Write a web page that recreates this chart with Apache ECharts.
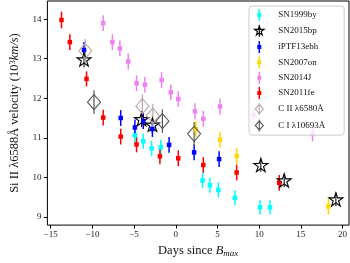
<!DOCTYPE html>
<html>
<head>
<meta charset="utf-8">
<script src="https://cdn.jsdelivr.net/npm/echarts@6/dist/echarts.min.js"></script>
<style>html,body{margin:0;padding:0;background:#fff}#c{width:350px;height:263px}</style>
</head>
<body>
<div id="c"></div>
<script>
const xTicks = [-15, -10, -5, 0, 5, 10, 15, 20];
const yTicks = [9, 10, 11, 12, 13, 14];

const sn1999by_x = [-4.9, -3.9, -2.9, -1.8, 3.2, 4.1, 5.1, 7.1, 10.1, 11.3];
const sn1999by_y = [11.06, 10.91, 10.73, 10.76, 9.92, 9.80, 9.68, 9.48, 9.24, 9.24];
const sn1999by_err = [0.19, 0.19, 0.19, 0.19, 0.19, 0.19, 0.19, 0.19, 0.18, 0.18];

const sn2015bp_x = [-11.0, -4.1, -2.8, 10.2, 13.0, 19.2];
const sn2015bp_y = [12.98, 11.47, 11.33, 10.31, 9.92, 9.44];
const sn2015bp_err = [0.2, 0.2, 0.2, 0.17, 0.17, 0.17];

const iptf13ebh_x = [-11.0, -6.6, -4.9, -3.9, -2.8, -0.8, 2.2, 5.2];
const iptf13ebh_y = [13.22, 11.50, 11.26, 11.42, 11.22, 10.82, 10.63, 10.46];
const iptf13ebh_err = [0.2, 0.2, 0.2, 0.2, 0.2, 0.2, 0.2, 0.2];

const sn2007on_x = [2.4, 5.3, 7.3, 18.3];
const sn2007on_y = [11.22, 10.95, 10.54, 9.26];
const sn2007on_err = [0.2, 0.2, 0.2, 0.2];

const sn2014j_x = [-8.7, -7.6, -6.7, -5.7, -4.7, -3.7, -1.7, -0.6, 0.3, 2.3, 3.3, 5.3, 9.3, 16.4];
const sn2014j_y = [13.90, 13.42, 13.26, 12.93, 12.38, 12.34, 12.46, 12.15, 11.98, 11.67, 11.48, 11.79, 11.58, 11.11];
const sn2014j_err = [0.2, 0.2, 0.2, 0.2, 0.2, 0.2, 0.2, 0.2, 0.2, 0.2, 0.2, 0.2, 0.2, 0.2];

const sn2011fe_x = [-13.7, -12.7, -10.7, -8.7, -6.6, -4.7, -1.9, 0.3, 3.3, 7.3, 12.4];
const sn2011fe_y = [13.98, 13.42, 12.49, 11.51, 11.03, 10.83, 10.53, 10.48, 10.31, 10.12, 9.86];
const sn2011fe_err = [0.21, 0.2, 0.19, 0.2, 0.2, 0.2, 0.2, 0.2, 0.2, 0.2, 0.2];

const cII_x = [-10.85, -4.0, -2.75];
const cII_y = [13.20, 11.80, 11.56];
const cII_err = [0.3, 0.3, 0.3];

const cI_x = [-9.8, -1.6, 2.2];
const cI_y = [11.90, 11.42, 11.10];
const cI_err = [0.3, 0.3, 0.3];

const FONT = '"Liberation Serif", "DejaVu Serif", serif';
const STAR = 'path://M0,-10L2.245,-3.09L9.511,-3.09L3.633,1.18L5.878,8.09L0,3.82L-5.878,8.09L-3.633,1.18L-9.511,-3.09L-2.245,-3.09Z';
const STAR_LEG = 'path://M0,-10L2.245,-3.09L9.511,-3.09L3.633,1.18L5.878,8.09L0,3.82L-5.878,8.09L-3.633,1.18L-9.511,-3.09L-2.245,-3.09ZM0,-12L0,12';
const DIAM_LEG = 'path://M0,-7L6,0L0,7L-6,0ZM0,-9L0,9';
const EB_LEG = 'path://M1.25,0L2.75,0L2.75,4L4,4L4,8L2.75,8L2.75,12L1.25,12L1.25,8L0,8L0,4L1.25,4Z';

function pts(xs, ys) { return xs.map((x, i) => [x, ys[i]]); }
function errPts(xs, ys, es) { return xs.map((x, i) => [x, ys[i], es[i]]); }

function errSeries(name, xs, ys, es, color, lw) {
  return {
    type: 'custom', name: name + '_err', silent: true,
    data: errPts(xs, ys, es),
    encode: { x: 0, y: 1 },
    renderItem: function (params, api) {
      const x = api.value(0), y = api.value(1), e = api.value(2);
      const p1 = api.coord([x, y - e]);
      const p2 = api.coord([x, y + e]);
      return { type: 'line', shape: { x1: p1[0], y1: p1[1], x2: p2[0], y2: p2[1] },
               style: { stroke: color, lineWidth: lw } };
    }
  };
}
function sqSeries(name, xs, ys, color) {
  return { type: 'scatter', name: name, data: pts(xs, ys), symbol: 'rect', symbolSize: 4.5,
           itemStyle: { color: color, opacity: 1 } };
}
function openSeries(name, xs, ys, symbol, size, color) {
  return { type: 'scatter', name: name, data: pts(xs, ys), symbol: symbol, symbolSize: size,
           symbolKeepAspect: true,
           itemStyle: { color: 'rgba(0,0,0,0)', borderColor: color, borderWidth: 1.1, opacity: 1 } };
}

const cIIcol = '#bba6a6';
const cIcol = '#555555';

const series = [
  errSeries('SN1999by', sn1999by_x, sn1999by_y, sn1999by_err, '#00ffff', 1.5),
  sqSeries('SN1999by', sn1999by_x, sn1999by_y, '#00ffff'),
  errSeries('SN2015bp', sn2015bp_x, sn2015bp_y, sn2015bp_err, '#000000', 1),
  openSeries('SN2015bp', sn2015bp_x, sn2015bp_y, STAR, 14, '#000000'),
  errSeries('iPTF13ebh', iptf13ebh_x, iptf13ebh_y, iptf13ebh_err, '#0000ff', 1.5),
  sqSeries('iPTF13ebh', iptf13ebh_x, iptf13ebh_y, '#0000ff'),
  errSeries('SN2007on', sn2007on_x, sn2007on_y, sn2007on_err, '#ffd700', 1.5),
  sqSeries('SN2007on', sn2007on_x, sn2007on_y, '#ffd700'),
  errSeries('SN2014J', sn2014j_x, sn2014j_y, sn2014j_err, '#ee82ee', 1.5),
  sqSeries('SN2014J', sn2014j_x, sn2014j_y, '#ee82ee'),
  errSeries('SN2011fe', sn2011fe_x, sn2011fe_y, sn2011fe_err, '#ff0000', 1.5),
  sqSeries('SN2011fe', sn2011fe_x, sn2011fe_y, '#ff0000'),
  errSeries('CII', cII_x, cII_y, cII_err, cIIcol, 1.2),
  openSeries('C II λ6580Å', cII_x, cII_y, 'diamond', [13, 15], cIIcol),
  errSeries('CI', cI_x, cI_y, cI_err, cIcol, 1.2),
  openSeries('C I λ10693Å', cI_x, cI_y, 'diamond', [13, 15], cIcol)
];

const fmt = v => (v < 0 ? '\u2212' + (-v) : String(v));

const chart = echarts.init(document.getElementById('c'), null, { renderer: 'canvas' });
chart.setOption({
  animation: false,
  backgroundColor: '#fff',
  grid: { left: 33, right: 1, top: 1, bottom: 27, show: true, borderColor: '#000', borderWidth: 1 },
  xAxis: {
    type: 'value', min: -15.39, max: 20.77,
    splitLine: { show: false },
    axisLine: { show: false, onZero: false },
    axisTick: { show: true, customValues: xTicks, length: 3.5, inside: false, lineStyle: { color: '#000' } },
    axisLabel: { customValues: xTicks, formatter: fmt, color: '#222', fontFamily: FONT, fontSize: 9, margin: 5 },
    name: 'Days since {i|B}{sub|max}',
    nameLocation: 'middle', nameGap: 14,
    nameTextStyle: {
      fontFamily: FONT, fontSize: 12.5, color: '#111',
      rich: {
        i: { fontFamily: FONT, fontSize: 12.5, fontStyle: 'italic', color: '#111' },
        sub: { fontFamily: FONT, fontSize: 9, fontStyle: 'italic', color: '#111', verticalAlign: 'bottom', padding: [6, 0, 0, 0] }
      }
    }
  },
  yAxis: {
    type: 'value', min: 8.79, max: 14.46,
    splitLine: { show: false },
    axisLine: { show: false, onZero: false },
    axisTick: { show: true, customValues: yTicks, length: 3.5, inside: false, lineStyle: { color: '#000' } },
    axisLabel: { customValues: yTicks, formatter: fmt, color: '#222', fontFamily: FONT, fontSize: 9, margin: 6 },
    name: 'Si II λ6588Å velocity (10{sup|3}{i|km/s})',
    nameLocation: 'middle', nameRotate: 90, nameGap: 18,
    nameTextStyle: {
      fontFamily: FONT, fontSize: 12.5, color: '#111',
      rich: {
        sup: { fontFamily: FONT, fontSize: 8.5, color: '#111', verticalAlign: 'top', padding: [0, 0, 5, 0] },
        i: { fontFamily: FONT, fontSize: 12.5, fontStyle: 'italic', color: '#111' }
      }
    }
  },
  legend: {
    orient: 'vertical', left: 249, top: 6,
    padding: [3, 19, 3, 5],
    itemWidth: 16, itemHeight: 12, itemGap: 3.4,
    backgroundColor: 'rgba(255,255,255,0.8)', borderColor: '#cccccc', borderWidth: 1, borderRadius: 3,
    textStyle: { fontFamily: FONT, fontSize: 9, color: '#111', padding: [0, 0, 0, 6] },
    selectedMode: false,
    z: 10,
    data: [
      { name: 'SN1999by', icon: EB_LEG },
      { name: 'SN2015bp', icon: STAR_LEG, itemStyle: { color: 'rgba(0,0,0,0)', borderColor: '#000', borderWidth: 1.1 } },
      { name: 'iPTF13ebh', icon: EB_LEG },
      { name: 'SN2007on', icon: EB_LEG },
      { name: 'SN2014J', icon: EB_LEG },
      { name: 'SN2011fe', icon: EB_LEG },
      { name: 'C II λ6580Å', icon: DIAM_LEG, itemStyle: { color: 'rgba(0,0,0,0)', borderColor: cIIcol, borderWidth: 1.1 } },
      { name: 'C I λ10693Å', icon: DIAM_LEG, itemStyle: { color: 'rgba(0,0,0,0)', borderColor: cIcol, borderWidth: 1.1 } }
    ]
  },
  series: series
});
</script>
</body>
</html>
